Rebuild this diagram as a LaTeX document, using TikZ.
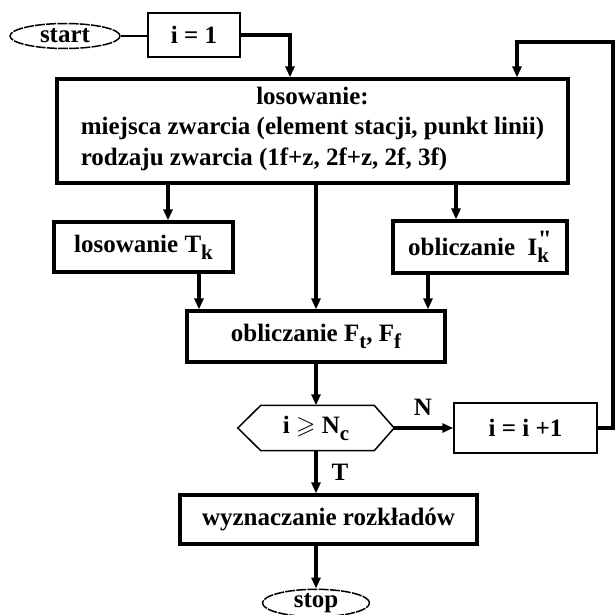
\documentclass[tikz,border=0pt]{standalone}
\usepackage{fontspec}
\setmainfont{Liberation Serif}
\newfontfamily\plainserif{Liberation Serif}
\usepackage{amssymb}
\usetikzlibrary{arrows.meta,shapes.geometric}

% lowered subscript, and lowered subscript with a mark above it
\newcommand\sbs[1]{\raisebox{-7pt}{\fontsize{21}{21}\selectfont #1}}
\newcommand\sbsq[2]{\rlap{\raisebox{-7pt}{\fontsize{21}{21}\selectfont #1}}\raisebox{8pt}{\fontsize{25}{25}\plainserif\bfseries\kern0.5pt #2}}

\begin{document}
\begin{tikzpicture}[x=1pt,y=-1pt,
  font=\fontsize{25}{31}\selectfont\bfseries,
  box/.style={draw, line width=3.2pt, inner sep=0pt},
  thinbox/.style={draw, line width=1.5pt, inner sep=0pt},
  thinline/.style={line width=1.5pt},
  flow/.style={line width=3.2pt, -{Triangle[length=11pt,width=9pt]}},
  term/.style={ellipse, draw, line width=1.5pt, dash pattern=on 10pt off 1.2pt, inner sep=0pt}]
\useasboundingbox (0,0) rectangle (615,615);

% nodes
\node[term, minimum width=110pt, minimum height=25pt] (start) at (65,36) {start};
\node[thinbox, minimum width=92pt, minimum height=44pt] (init) at (194,35) {i = 1};
\node[box, minimum width=511pt, minimum height=104pt, align=center] (los) at (312.5,131)
  {losowanie:\\[7pt] \begin{tabular}{@{}l@{}}miejsca zwarcia (element stacji, punkt linii)\\
   rodzaju zwarcia (1f+z, 2f+z, 2f, 3f)\end{tabular}};
\node[box, minimum width=179pt, minimum height=50pt] (tk) at (143.5,247) {losowanie T\sbs{k}};
\node[box, minimum width=174pt, minimum height=52pt] (ik) at (480,247) {obliczanie\ \ I\sbsq{k}{"}};
\node[box, minimum width=258pt, minimum height=51pt] (ff) at (316,336.5) {obliczanie F\sbs{t}, F\sbs{f}};
\node[minimum width=156pt, minimum height=45pt, inner sep=0pt] (cond) at (316,428) {i $\geqslant$ N\sbs{c}};
\draw[thinline] (cond.west) -- ([xshift=23pt]cond.north west) -- ([xshift=-20pt]cond.north east)
  -- (cond.east) -- ([xshift=-20pt]cond.south east) -- ([xshift=23pt]cond.south west) -- cycle;
\node[thinbox, minimum width=143pt, minimum height=50pt] (inc) at (525.5,428) {i = i +1};
\node[box, minimum width=297pt, minimum height=49pt] (res) at (328.5,519.5) {wyznaczanie rozkładów};
\node[term, minimum width=107pt, minimum height=25pt] (stop) at (316,603) {stop};
\node (lblN) at (423,407) {N};
\node (lblT) at (340,472) {T};
\coordinate (rt) at (613,42);

% connectors
\draw[thinline] (start.east) -- (start.east -| init.west);
\draw[flow] (init.east) -| ([xshift=-22.5pt]los.north);
\draw[flow] ([xshift=24.5pt]tk.north |- los.south) -- ([xshift=24.5pt]tk.north);
\draw[flow] ([xshift=-24pt]ik.north |- los.south) -- ([xshift=-24pt]ik.north);
\draw[flow] (ff.north |- los.south) -- (ff.north);
\draw[flow] ([xshift=55.5pt]tk.south) -- ([xshift=55.5pt]tk.south |- ff.north);
\draw[flow] ([xshift=-52pt]ik.south) -- ([xshift=-52pt]ik.south |- ff.north);
\draw[flow] (ff.south) -- (cond.north);
\draw[flow] (cond.east) -- (inc.west);
\draw[flow] (cond.south) -- (cond.south |- res.north);
\draw[flow] (cond.south |- res.south) -- (stop.north);
\draw[flow] (inc.east) -| (rt) -| ([xshift=204.5pt]los.north);
\end{tikzpicture}
\end{document}
